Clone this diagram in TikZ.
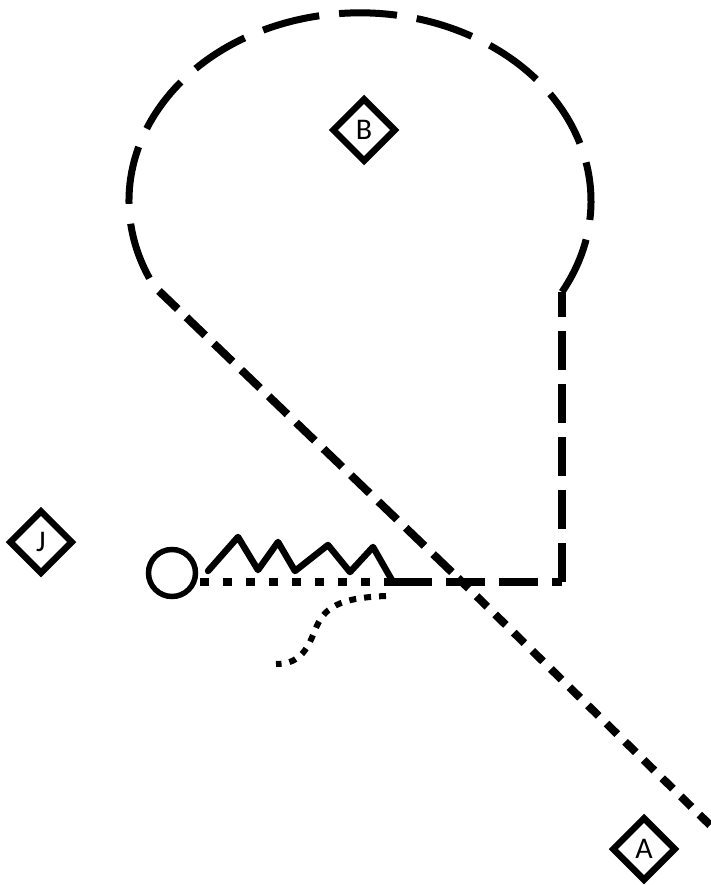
\documentclass[tikz,border=0pt]{standalone}
\usepackage{fontspec}
\setmainfont{Carlito}
\usetikzlibrary{shapes.geometric}
\begin{document}
\begin{tikzpicture}[x=1pt,y=1pt,
  player/.style={diamond, draw, line width=6.5pt, minimum width=64pt, minimum height=64pt, inner sep=0pt, font=\fontsize{30}{30}\selectfont},
  ballcarrier/.style={circle, draw, line width=5.5pt, minimum size=47pt, inner sep=0pt},
  loopline/.style={line width=7pt, dash pattern=on 58pt off 20pt},
  longdash/.style={line width=8pt, dash pattern=on 39pt off 14pt},
  diagdash/.style={line width=8pt, dash pattern=on 26pt off 12pt},
  shortdash/.style={line width=8pt, dash pattern=on 15pt off 11pt},
  squaredots/.style={line width=8pt, dash pattern=on 9pt off 14pt},
  curvedots/.style={line width=6pt, dash pattern=on 7pt off 8pt},
  zig/.style={line width=6.5pt, line join=round, line cap=round}]
\useasboundingbox (0,0) rectangle (711,-885);

% players
\node[player] (B) at (364,-130) {B};
\node[player] (J) at (41,-542) {J};
\node[player] (A) at (644,-849) {A};
\node[ballcarrier] (Q) at (172,-573) {};

% route points
\coordinate (h0) at (200,-582);
\coordinate (h1) at (393,-582);
\coordinate (corner) at (562,-582);
\coordinate (v1) at (562,-292);
\coordinate (l1) at (159,-291);
\coordinate (x) at (458,-578);
\coordinate (e) at (711,-826);
\coordinate (s0) at (386,-596);
\coordinate (s1) at (276,-664);

% zigzag
\draw[zig] (208,-571) -- (238,-537) -- (258,-570) -- (278,-542) -- (295,-571)
  -- (328,-545) -- (350,-572) -- (373,-547) -- (h1);

% dotted line from circle
\draw[squaredots] (h0) -- (h1);

% horizontal and vertical dashed
\draw[longdash] (h1) -- (corner);
\draw[longdash] (corner) -- (v1);

% loop
\draw[loopline] (v1) arc[start angle=-29, end angle=209, x radius=231, y radius=188];

% diagonal
\draw[diagdash] (l1) -- (x);
\draw[shortdash] (x) -- (e);

% squiggle
\draw[curvedots] (s0) .. controls (330,-598) and (322,-612) .. (313,-635)
  .. controls (305,-655) and (295,-664) .. (s1);
\end{tikzpicture}
\end{document}
